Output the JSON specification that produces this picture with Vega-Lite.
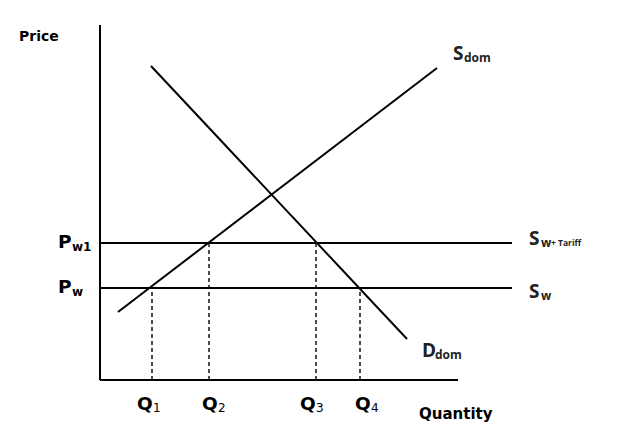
{
  "$schema": "https://vega.github.io/schema/vega-lite/v6.json",
  "width": 625,
  "height": 435,
  "padding": 0,
  "autosize": {"type": "fit", "contains": "padding"},
  "background": "white",
  "config": {"view": {"stroke": null}},
  "layer": [
    {
      "data": {"values": [
        {"series": "yaxis", "q": 0, "p": 0}, {"series": "yaxis", "q": 0, "p": 88.75},
        {"series": "xaxis", "q": 0, "p": 0}, {"series": "xaxis", "q": 89.5, "p": 0},
        {"series": "supply", "q": 4.5, "p": 17}, {"series": "supply", "q": 84.25, "p": 78},
        {"series": "demand", "q": 12.75, "p": 78.5}, {"series": "demand", "q": 76.75, "p": 10.25},
        {"series": "pw1", "q": 0, "p": 34.25}, {"series": "pw1", "q": 103, "p": 34.25},
        {"series": "pw", "q": 0, "p": 23}, {"series": "pw", "q": 103, "p": 23}
      ]},
      "mark": {"type": "line", "color": "black", "strokeWidth": 2},
      "encoding": {
        "x": {"field": "q", "type": "quantitative", "scale": {"domain": [-25, 131.25], "nice": false, "zero": false}, "axis": null},
        "y": {"field": "p", "type": "quantitative", "scale": {"domain": [-13.75, 95], "nice": false, "zero": false}, "axis": null},
        "detail": {"field": "series"}
      }
    },
    {
      "data": {"values": [
        {"series": "q1", "q": 13, "p": 0}, {"series": "q1", "q": 13, "p": 23},
        {"series": "q2", "q": 27.25, "p": 0}, {"series": "q2", "q": 27.25, "p": 34.25},
        {"series": "q3", "q": 54, "p": 0}, {"series": "q3", "q": 54, "p": 34.25},
        {"series": "q4", "q": 65, "p": 0}, {"series": "q4", "q": 65, "p": 23}
      ]},
      "mark": {"type": "line", "color": "#111111", "strokeWidth": 1.5, "strokeDash": [4, 3]},
      "encoding": {
        "x": {"field": "q", "type": "quantitative", "scale": {"domain": [-25, 131.25], "nice": false, "zero": false}, "axis": null},
        "y": {"field": "p", "type": "quantitative", "scale": {"domain": [-13.75, 95], "nice": false, "zero": false}, "axis": null},
        "detail": {"field": "series"}
      }
    },
    {
      "data": {"values": [
        {"label": "Price", "q": -20.25, "p": 84.75}
      ]},
      "mark": {"type": "text", "align": "left", "baseline": "alphabetic", "font": "DejaVu Sans", "fontWeight": "bold", "fontSize": 14, "color": "black"},
      "encoding": {
        "x": {"field": "q", "type": "quantitative", "scale": {"domain": [-25, 131.25], "nice": false, "zero": false}, "axis": null},
        "y": {"field": "p", "type": "quantitative", "scale": {"domain": [-13.75, 95], "nice": false, "zero": false}, "axis": null},
        "text": {"field": "label"}
      }
    },
    {
      "data": {"values": [
        {"label": "Quantity", "q": 79.75, "p": -9.75}
      ]},
      "mark": {"type": "text", "align": "left", "baseline": "alphabetic", "font": "DejaVu Sans", "fontWeight": "bold", "fontSize": 15, "color": "black"},
      "encoding": {
        "x": {"field": "q", "type": "quantitative", "scale": {"domain": [-25, 131.25], "nice": false, "zero": false}, "axis": null},
        "y": {"field": "p", "type": "quantitative", "scale": {"domain": [-13.75, 95], "nice": false, "zero": false}, "axis": null},
        "text": {"field": "label"}
      }
    },
    {
      "data": {"values": [
        {"label": "P", "q": -10.5, "p": 33},
        {"label": "P", "q": -10.5, "p": 21.75},
        {"label": "Q", "q": 9.25, "p": -7.5},
        {"label": "Q", "q": 25.5, "p": -7.5},
        {"label": "Q", "q": 50, "p": -7.5},
        {"label": "Q", "q": 63.75, "p": -7.5}
      ]},
      "mark": {"type": "text", "align": "left", "baseline": "alphabetic", "font": "DejaVu Sans", "fontWeight": "bold", "fontSize": 18.5, "color": "black"},
      "encoding": {
        "x": {"field": "q", "type": "quantitative", "scale": {"domain": [-25, 131.25], "nice": false, "zero": false}, "axis": null},
        "y": {"field": "p", "type": "quantitative", "scale": {"domain": [-13.75, 95], "nice": false, "zero": false}, "axis": null},
        "text": {"field": "label"}
      }
    },
    {
      "data": {"values": [
        {"label": "w1", "q": -7, "p": 32.25},
        {"label": "w", "q": -7, "p": 21}
      ]},
      "mark": {"type": "text", "align": "left", "baseline": "alphabetic", "font": "DejaVu Sans", "fontWeight": "bold", "fontSize": 12, "color": "black"},
      "encoding": {
        "x": {"field": "q", "type": "quantitative", "scale": {"domain": [-25, 131.25], "nice": false, "zero": false}, "axis": null},
        "y": {"field": "p", "type": "quantitative", "scale": {"domain": [-13.75, 95], "nice": false, "zero": false}, "axis": null},
        "text": {"field": "label"}
      }
    },
    {
      "data": {"values": [
        {"label": "1", "q": 13.25, "p": -8},
        {"label": "2", "q": 29.5, "p": -8},
        {"label": "3", "q": 54, "p": -8},
        {"label": "4", "q": 67.75, "p": -8}
      ]},
      "mark": {"type": "text", "align": "left", "baseline": "alphabetic", "font": "DejaVu Sans", "fontWeight": "normal", "fontSize": 12, "color": "black"},
      "encoding": {
        "x": {"field": "q", "type": "quantitative", "scale": {"domain": [-25, 131.25], "nice": false, "zero": false}, "axis": null},
        "y": {"field": "p", "type": "quantitative", "scale": {"domain": [-13.75, 95], "nice": false, "zero": false}, "axis": null},
        "text": {"field": "label"}
      }
    },
    {
      "data": {"values": [
        {"label": "S", "q": 88.25, "p": 80},
        {"label": "S", "q": 107.25, "p": 33.75},
        {"label": "S", "q": 107.25, "p": 20.5},
        {"label": "D", "q": 80.5, "p": 5.75}
      ]},
      "mark": {"type": "text", "align": "left", "baseline": "alphabetic", "font": "Open Sans", "fontWeight": "bold", "fontSize": 19, "color": "#222222"},
      "encoding": {
        "x": {"field": "q", "type": "quantitative", "scale": {"domain": [-25, 131.25], "nice": false, "zero": false}, "axis": null},
        "y": {"field": "p", "type": "quantitative", "scale": {"domain": [-13.75, 95], "nice": false, "zero": false}, "axis": null},
        "text": {"field": "label"}
      }
    },
    {
      "data": {"values": [
        {"label": "dom", "q": 91, "p": 79.5},
        {"label": "w", "q": 110.25, "p": 33.25},
        {"label": "w", "q": 110.25, "p": 20},
        {"label": "dom", "q": 83.75, "p": 5.25}
      ]},
      "mark": {"type": "text", "align": "left", "baseline": "alphabetic", "font": "Open Sans", "fontWeight": "bold", "fontSize": 12, "color": "#222222"},
      "encoding": {
        "x": {"field": "q", "type": "quantitative", "scale": {"domain": [-25, 131.25], "nice": false, "zero": false}, "axis": null},
        "y": {"field": "p", "type": "quantitative", "scale": {"domain": [-13.75, 95], "nice": false, "zero": false}, "axis": null},
        "text": {"field": "label"}
      }
    },
    {
      "data": {"values": [
        {"label": "+ Tariff", "q": 112.75, "p": 33.5}
      ]},
      "mark": {"type": "text", "align": "left", "baseline": "alphabetic", "font": "Open Sans", "fontWeight": "bold", "fontSize": 8.5, "color": "#222222"},
      "encoding": {
        "x": {"field": "q", "type": "quantitative", "scale": {"domain": [-25, 131.25], "nice": false, "zero": false}, "axis": null},
        "y": {"field": "p", "type": "quantitative", "scale": {"domain": [-13.75, 95], "nice": false, "zero": false}, "axis": null},
        "text": {"field": "label"}
      }
    }
  ]
}
